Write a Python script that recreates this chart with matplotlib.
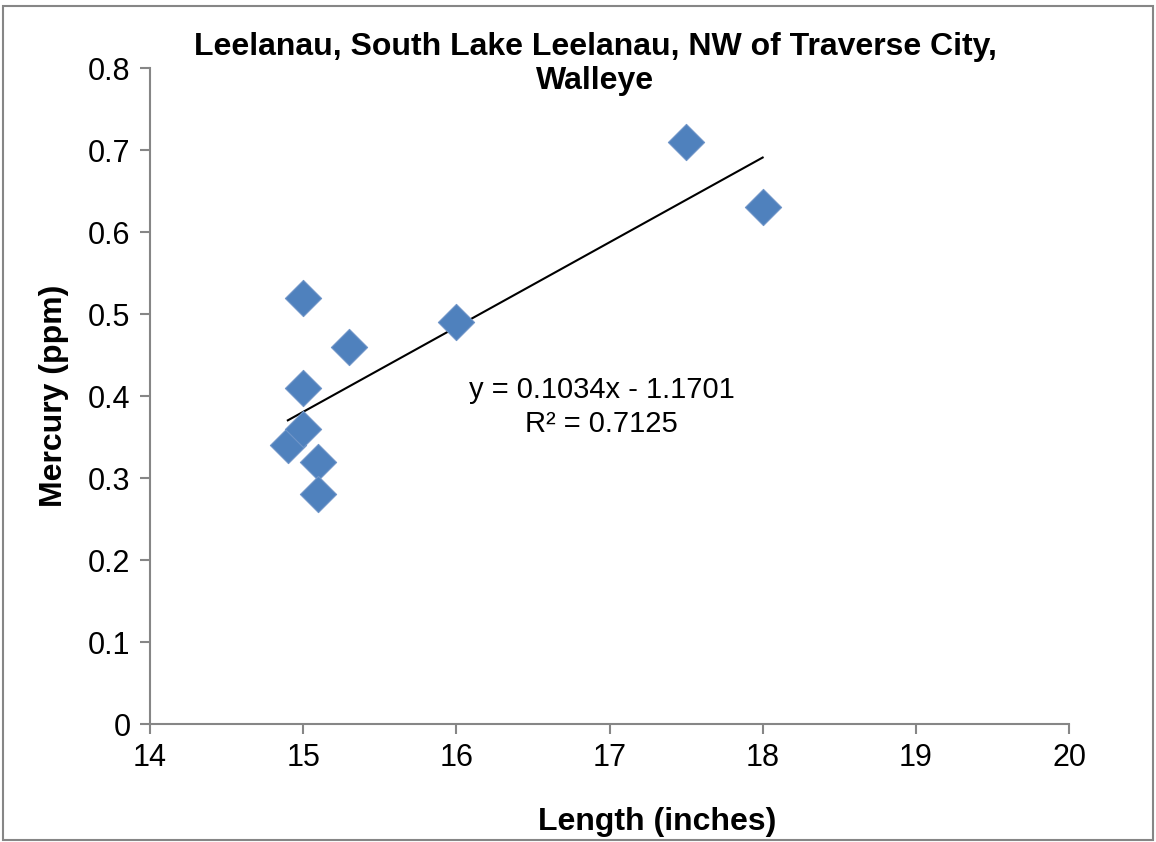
import numpy as np
import matplotlib
matplotlib.use("Agg")
import matplotlib.pyplot as plt
from matplotlib.patches import Rectangle

plt.rcParams['font.family'] = ['Liberation Sans', 'DejaVu Sans']

length = [14.9, 15.0, 15.0, 15.0, 15.1, 15.1, 15.3, 16.0, 17.5, 18.0]
mercury = [0.34, 0.52, 0.41, 0.36, 0.32, 0.28, 0.46, 0.49, 0.71, 0.63]
x_ticks = [14, 15, 16, 17, 18, 19, 20]
y_ticks = [0, 0.1, 0.2, 0.3, 0.4, 0.5, 0.6, 0.7, 0.8]
y_tick_labels = ["0", "0.1", "0.2", "0.3", "0.4", "0.5", "0.6", "0.7", "0.8"]

fig = plt.figure(figsize=(11.56, 8.42), dpi=100)
ax = fig.add_axes([150/1156, 1-724/842, (1069-150)/1156, (724-68)/842])

ax.scatter(length, mercury, marker='D', s=340, color='#4F81BD',
           edgecolors='#6F95C8', linewidths=0.8, zorder=3)

slope, intercept = np.polyfit(length, mercury, 1)
xs = np.array([min(length), max(length)])
ax.plot(xs, slope*xs + intercept, color='black', lw=1.5, zorder=2)
pred = slope*np.array(length) + intercept
ss_res = np.sum((np.array(mercury) - pred)**2)
ss_tot = np.sum((np.array(mercury) - np.mean(mercury))**2)
r2 = 1 - ss_res/ss_tot
sign = '-' if intercept < 0 else '+'
ax.text(16.95, 0.3865, f"y = {slope:.4f}x {sign} {abs(intercept):.4f}\nR² = {r2:.4f}",
        ha='center', va='center', fontsize=21, linespacing=1.3)

ax.set_xlim(14, 20)
ax.set_ylim(0, 0.8)
ax.set_xticks(x_ticks)
ax.set_yticks(y_ticks)
ax.set_yticklabels(y_tick_labels)
for s in ['top', 'right']:
    ax.spines[s].set_visible(False)
for s in ['left', 'bottom']:
    ax.spines[s].set_color('#868686')
    ax.spines[s].set_linewidth(1.5)
ax.tick_params(axis='both', direction='out', length=7, width=1.5, color='#868686',
               labelsize=22, pad=7)

ax.set_xlabel("Length (inches)", fontsize=23, fontweight='bold', labelpad=24)
ax.xaxis.label.set_x(0.552)
ax.set_ylabel("Mercury (ppm)", fontsize=23, fontweight='bold', labelpad=14)
fig.text(0.515, 0.924, "Leelanau, South Lake Leelanau, NW of Traverse City,\nWalleye",
         ha='center', va='center', fontsize=23, fontweight='bold', linespacing=1.2)

fig.patches.append(Rectangle((3/1156, 2/842), 1150/1156, 834/842, transform=fig.transFigure,
                             fill=False, edgecolor='#868686', lw=1.5))

fig.savefig("out.png", dpi=100)
